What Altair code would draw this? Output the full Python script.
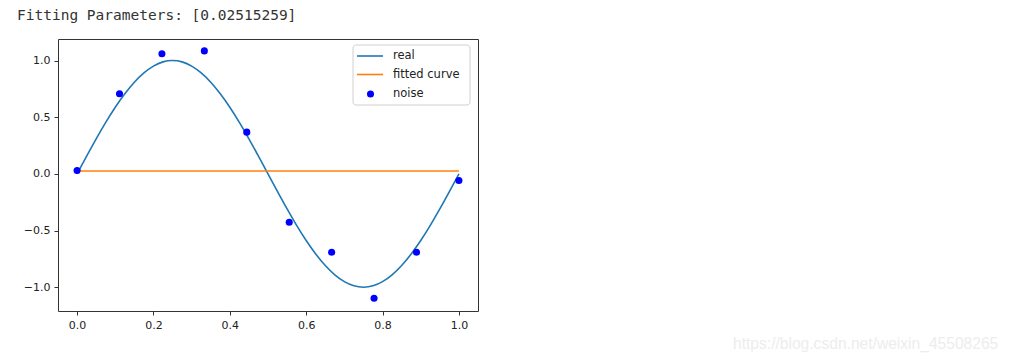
import altair as alt
import pandas as pd

# ---- data ----
REAL_X = [i * 0.025 for i in range(41)]
REAL_Y = [0.000, 0.156, 0.309, 0.454, 0.588, 0.707, 0.809, 0.891, 0.951, 0.988,
          1.000, 0.988, 0.951, 0.891, 0.809, 0.707, 0.588, 0.454, 0.309, 0.156,
          0.000, -0.156, -0.309, -0.454, -0.588, -0.707, -0.809, -0.891, -0.951, -0.988,
          -1.000, -0.988, -0.951, -0.891, -0.809, -0.707, -0.588, -0.454, -0.309, -0.156,
          0.000]
FIT_X = [0.0, 1.0]
FIT_Y = [0.02515259, 0.02515259]
NOISE_X = [0.0, 0.1111, 0.2222, 0.3333, 0.4444, 0.5556, 0.6667, 0.7778, 0.8889, 1.0]
NOISE_Y = [0.03, 0.707, 1.06, 1.085, 0.368, -0.427, -0.692, -1.098, -0.692, -0.059]
X_TICKS = [0.0, 0.2, 0.4, 0.6, 0.8, 1.0]
Y_TICKS = [-1.0, -0.5, 0.0, 0.5, 1.0]
LEGEND_LABELS = ["real", "fitted curve", "noise"]
HEADER = "Fitting Parameters: [0.02515259]"
WATERMARK = "https://blog.csdn.net/weixin_45508265"

C_REAL = "#1f77b4"
C_FIT = "#ff7f0e"
C_NOISE = "#0000ff"

real_df = pd.DataFrame({"x": REAL_X, "y": REAL_Y})
fit_df = pd.DataFrame({"x": FIT_X, "y": FIT_Y})
noise_df = pd.DataFrame({"x": NOISE_X, "y": NOISE_Y})
one = pd.DataFrame({"a": [0]})

xs = alt.Scale(domain=[-0.05, 1.05], nice=False, zero=False)
ys = alt.Scale(domain=[-1.21, 1.19], nice=False, zero=False)
xax = alt.Axis(values=X_TICKS, format=".1f", title=None, grid=False, domain=False,
               tickSize=4, labelPadding=4)
yax = alt.Axis(values=Y_TICKS, format=".1f", title=None, grid=False, domain=False,
               tickSize=4, labelPadding=4)

real = alt.Chart(real_df).mark_line(color=C_REAL, strokeWidth=1.6, interpolate="natural").encode(
    x=alt.X("x:Q", scale=xs, axis=xax), y=alt.Y("y:Q", scale=ys, axis=yax))
fit = alt.Chart(fit_df).mark_line(color=C_FIT, strokeWidth=1.6).encode(
    x=alt.X("x:Q", scale=xs), y=alt.Y("y:Q", scale=ys))
noise = alt.Chart(noise_df).mark_circle(color=C_NOISE, size=50, opacity=1).encode(
    x=alt.X("x:Q", scale=xs), y=alt.Y("y:Q", scale=ys))

# legend
leg_box = alt.Chart(one).mark_rect(fill="white", stroke="#cccccc", strokeWidth=1,
                                   cornerRadius=3, opacity=0.9).encode(
    x=alt.value(295), x2=alt.value(412), y=alt.value(6), y2=alt.value(66))
leg_real = alt.Chart(one).mark_rule(color=C_REAL, strokeWidth=1.6).encode(
    x=alt.value(299), x2=alt.value(325), y=alt.value(17))
leg_fit = alt.Chart(one).mark_rule(color=C_FIT, strokeWidth=1.6).encode(
    x=alt.value(299), x2=alt.value(325), y=alt.value(35.5))
leg_dot = alt.Chart(one).mark_circle(color=C_NOISE, size=50, opacity=1).encode(
    x=alt.value(312.5), y=alt.value(55))
leg_txt = [
    alt.Chart(one).mark_text(text=t, align="left", baseline="middle", font="DejaVu Sans",
                             fontSize=11.5, color="#222222").encode(x=alt.value(335), y=alt.value(yy))
    for t, yy in zip(LEGEND_LABELS, [17, 35.5, 54.5])
]

header = alt.Chart(one).mark_text(text=HEADER, align="left", baseline="middle",
                                  font="DejaVu Sans Mono", fontSize=14.5, color="#333333").encode(
    x=alt.value(-41), y=alt.value(-23))
watermark = alt.Chart(one).mark_text(text=WATERMARK, align="left", baseline="middle",
                                     font="Liberation Sans", fontSize=15.6, color="#ededed").encode(
    x=alt.value(675), y=alt.value(305))

chart = alt.layer(real, fit, noise, leg_box, leg_real, leg_fit, leg_dot, *leg_txt,
                  header, watermark).properties(
    width=420, height=272,
    autosize=alt.AutoSizeParams(type="none"),
    padding={"left": 50, "top": 31, "right": 528, "bottom": 44},
    background="white",
).configure_view(stroke="#333333", strokeWidth=1).configure_axis(
    labelFont="DejaVu Sans", labelFontSize=11, labelColor="#222222",
    tickColor="#333333", tickWidth=1)

chart.save("out.html", embed_options={"renderer": "svg", "actions": False})
